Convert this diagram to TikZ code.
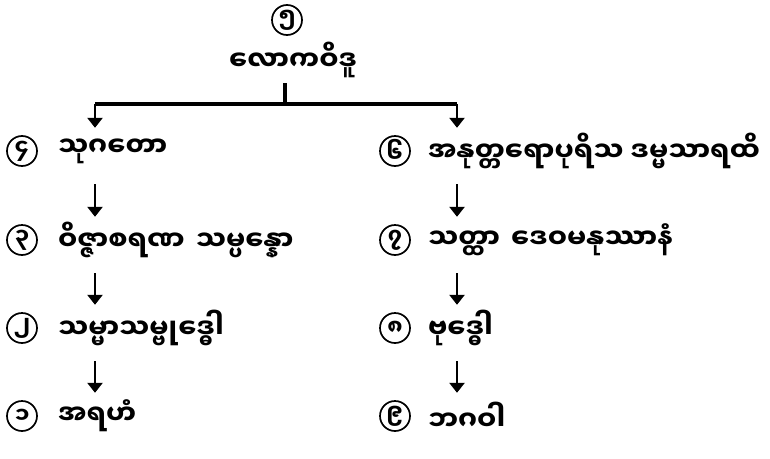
\documentclass[tikz,border=0pt]{standalone}
\usepackage{fontspec}
\newfontfamily\mmfont[Script=Myanmar]{Noto Sans Myanmar UI}
\usetikzlibrary{positioning,arrows.meta}

\tikzset{
  num/.style={circle, draw, line width=1.7pt, minimum size=30pt, inner sep=0pt,
    font=\mmfont\bfseries\fontsize{22}{22}\selectfont},
  item/.style={inner sep=0pt, minimum height=46pt,
    font=\mmfont\bfseries\fontsize{27}{30}\selectfont},
  down/.style={line width=2.8pt, -{Triangle[width=15pt,length=10pt]}},
  bar/.style={line width=3.8pt}
}

\begin{document}
\begin{tikzpicture}[x=1pt,y=-1pt]
\useasboundingbox (0,0) rectangle (770,458);

% top
\node[num] (n5) at (287,20) {၅};
\node[item] (t5) at (293,60) {လောကဝိဒူ};
\coordinate (stem) at (285,104);
\coordinate (bl) at (95,104);
\coordinate (br) at (457,104);
\draw[bar] (t5.south -| stem) -- (stem);
\draw[bar] (bl) -- (br);

% left column
\node[num] (n4) at (22,151) {၄};
\node[item, right=20pt of n4] (t4) {သုဂတော};
\node[num] (n3) at (22,240) {၃};
\node[item, right=20pt of n3] (t3) {ဝိဇ္ဇာစရဏ\hspace{4pt} သမ္ပန္နော};
\node[num] (n2) at (22,328) {၂};
\node[item, right=20pt of n2] (t2) {သမ္မာသမ္ဗုဒ္ဓေါ};
\node[num] (n1) at (22,416) {၁};
\node[item, right=20pt of n1] (t1) {အရဟံ};

% right column
\node[num] (n6) at (395,151) {၆};
\node[item, right=17pt of n6] (t6) {အနုတ္တရောပုရိသ ဒမ္မသာရထိ};
\node[num] (n7) at (395,240) {၇};
\node[item, right=17pt of n7] (t7) {သတ္ထာ\hspace{4pt} ဒေဝမနုဿာနံ};
\node[num] (n8) at (395,328) {၈};
\node[item, right=17pt of n8] (t8) {ဗုဒ္ဓေါ};
\node[num] (n9) at (395,416) {၉};
\node[item, right=17pt of n9] (t9) {ဘဂဝါ};

% arrows
\draw[down] (bl) -- (bl |- t4.north);
\draw[down] (br) -- (br |- t6.north);
\foreach \a/\b in {t4/t3, t3/t2, t2/t1}
  \draw[down, shorten <=10pt] (\a.south -| bl) -- (\b.north -| bl);
\foreach \a/\b in {t6/t7, t7/t8, t8/t9}
  \draw[down, shorten <=10pt] (\a.south -| br) -- (\b.north -| br);

\end{tikzpicture}
\end{document}
